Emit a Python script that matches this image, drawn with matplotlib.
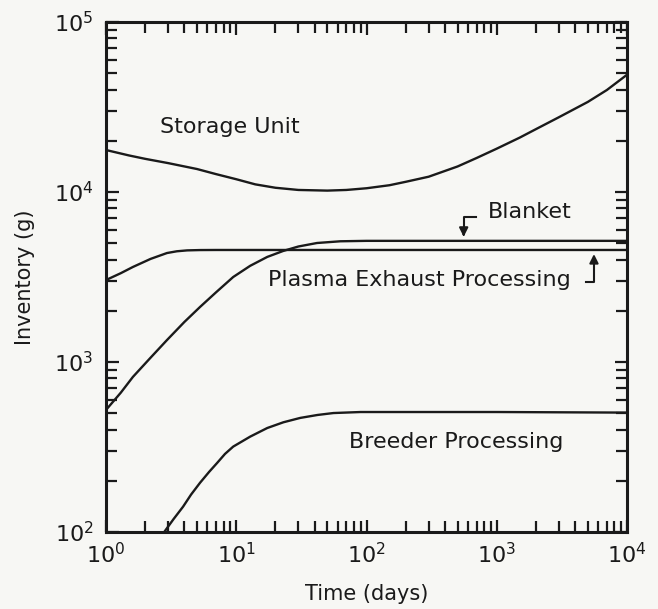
import matplotlib
matplotlib.use("Agg")
from matplotlib import pyplot as plt

# inventory of each subsystem vs. time (days, grams)
storage_t = [1, 1.5, 2, 3, 5, 7, 10, 14, 20, 30, 50, 70, 100, 150, 200, 300, 500, 700,
             1000, 1500, 2000, 3000, 5000, 7000, 10000]
storage_g = [17660, 16410, 15670, 14790, 13650, 12740, 11890, 11090, 10590, 10280, 10190,
             10280, 10520, 10960, 11480, 12300, 14130, 15850, 17990, 20890, 23440, 27540,
             33880, 39810, 48980]

blanket_t = [1, 1.3, 1.61, 2.2, 2.94, 4, 5.28, 7, 9.48, 12.8, 17.3, 22.9, 30, 41.7, 63,
             100, 1000, 10000]
blanket_g = [522, 660, 817, 1060, 1346, 1720, 2109, 2570, 3162, 3680, 4150, 4498, 4780,
             5012, 5130, 5160, 5160, 5160]

plasma_t = [1, 1.3, 1.61, 2.2, 2.94, 3.5, 4.2, 5.28, 7, 100, 1000, 10000]
plasma_g = [3034, 3330, 3622, 4040, 4375, 4480, 4535, 4555, 4560, 4560, 4560, 4560]

breeder_t = [2.8, 3.3, 3.91, 4.5, 5.28, 6.2, 7.14, 8.2, 9.48, 12.8, 17.3, 23, 31, 42,
             55.7, 90, 1000, 10000]
breeder_g = [100, 119, 141, 166, 195, 226, 255, 288, 318, 364, 409, 442, 469, 488,
             501, 508, 508, 504]

paper = "#f7f7f4"
lc = "#1a1a1a"

fig = plt.figure(figsize=(6.58, 6.09), dpi=100, facecolor=paper)
ax = fig.add_axes([0.161, 0.1264, 0.792, 0.8375])
ax.set_facecolor(paper)

for t, g in [(storage_t, storage_g), (blanket_t, blanket_g),
             (plasma_t, plasma_g), (breeder_t, breeder_g)]:
    ax.plot(t, g, color=lc, linewidth=1.7, solid_joinstyle="round")

ax.set_xscale("log")
ax.set_yscale("log")
ax.set_xlim(1, 1e4)
ax.set_ylim(1e2, 1e5)

for s in ax.spines.values():
    s.set_linewidth(2.2)
    s.set_color(lc)

ax.tick_params(which="both", direction="in", top=True, right=True, color=lc,
               labelsize=16, width=1.6, labelcolor=lc)
ax.tick_params(which="major", length=9, pad=7)
ax.tick_params(which="minor", length=8)
ax.tick_params(axis="y", which="major", pad=9)

ax.set_xlabel("Time (days)", fontsize=15, labelpad=12, color=lc)
ax.set_ylabel("Inventory (g)", fontsize=15, labelpad=14, color=lc)

fs = 16
ax.text(9.0, 24100, "Storage Unit", fontsize=fs, ha="center", va="center", color=lc)
ax.text(855, 7620, "Blanket", fontsize=fs, ha="left", va="center", color=lc)
ax.text(3700, 3030, "Plasma Exhaust Processing", fontsize=fs, ha="right", va="center", color=lc)
ax.text(484, 339, "Breeder Processing", fontsize=fs, ha="center", va="center", color=lc)

# pointer to the blanket line
ax.plot([690, 557, 557], [7130, 7130, 5900], color=lc, linewidth=1.5)
ax.annotate("", xy=(557, 5250), xytext=(557, 6000),
            arrowprops=dict(arrowstyle="-|>", color=lc, lw=1.5, mutation_scale=13))

# pointer to the plasma exhaust line
ax.plot([4840, 5570, 5570], [2950, 2950, 3900], color=lc, linewidth=1.5)
ax.annotate("", xy=(5570, 4480), xytext=(5570, 3800),
            arrowprops=dict(arrowstyle="-|>", color=lc, lw=1.5, mutation_scale=13))

fig.savefig("out.png", dpi=100, facecolor=fig.get_facecolor())
